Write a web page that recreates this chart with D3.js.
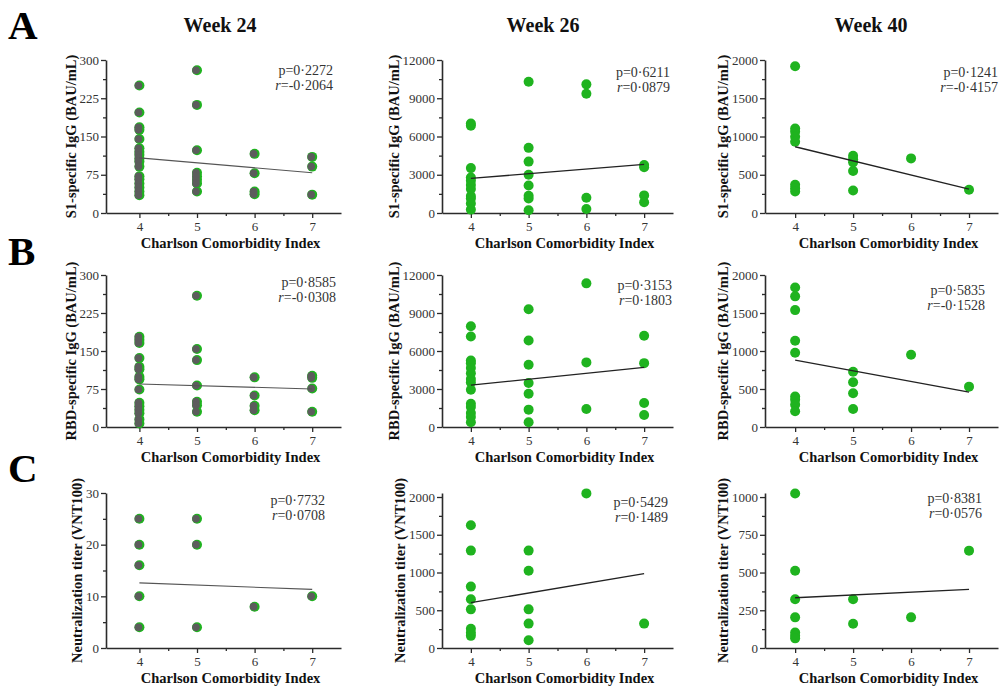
<!DOCTYPE html>
<meta charset="utf-8">
<script src="https://d3js.org/d3.v7.min.js"></script>
<style>
  body { margin: 0; background: #fff; }
  text { font-family: "Liberation Serif", "Times New Roman", serif; }
</style>
<div id="chart"></div>
<script>
// Charlson Comorbidity Index groups on the x axis
var cciLevels = [4, 5, 6, 7];
var weekTitles = ["Week 24", "Week 26", "Week 40"];
var rowLetters = ["A", "B", "C"];
var rowYTitles = ["S1-specific IgG (BAU/mL)", "RBD-specific IgG (BAU/mL)", "Neutralization titer (VNT100)"];

// values per CCI group (4, 5, 6, 7)
var s1Week24 = [[250, 197, 168, 163, 145, 127, 120, 114, 107, 101, 91, 72, 66, 58, 50, 42, 35], [280, 212, 123, 79, 72, 65, 58, 42], [116, 78, 42, 37], [110, 91, 36]];
var s1Week26 = [[7020, 6840, 3520, 2780, 2520, 2200, 1880, 1330, 1140, 740, 265], [10300, 5110, 4030, 3000, 2150, 1350, 1140, 210], [10090, 9350, 1200, 320], [3770, 3590, 1380, 850]];
var s1Week40 = [[1918, 1104, 1061, 996, 931, 368, 325, 281], [749, 701, 662, 550, 294], [714], [303]];
var rbdWeek24 = [[178, 172, 166, 136, 119, 114, 99, 94, 74, 48, 41, 34, 27, 15, 7], [259, 154, 132, 82, 50, 43, 30], [98, 62, 42, 33], [101, 97, 76, 30]];
var rbdWeek26 = [[7960, 7140, 5250, 5040, 4650, 4250, 3780, 3520, 2940, 1840, 1580, 1100, 790, 370], [9300, 6830, 4910, 3470, 2630, 1370, 370], [11340, 5100, 1420], [7200, 5040, 1890, 945]];
var rbdWeek40 = [[1836, 1719, 1538, 1136, 976, 402, 359, 294, 207], [726, 588, 445, 238], [950], [531]];
var vntWeek24 = [[25, 20, 16, 10, 4], [25, 20, 4], [8], [10]];
var vntWeek26 = [[1625, 1290, 813, 645, 512, 256, 203, 161], [1290, 1024, 512, 323, 102], [2048], [323]];
var vntWeek40 = [[1024, 512, 323, 203, 102, 81, 64], [323, 161], [203], [645]];

// fitted line value at CCI 4 and CCI 7
var fits = [[108, 79], [2710, 3820], [866, 312], [85, 75], [3310, 4700], [881, 458], [12.6, 11.35], [600, 985], [333, 389]];
var pValues = ["0·2272", "0·6211", "0·1241", "0·8585", "0·3153", "0·5835", "0·7732", "0·5429", "0·8381"];
var rValues = ["-0·2064", "0·0879", "-0·4157", "-0·0308", "0·1803", "-0·1528", "0·0708", "0·1489", "0·0576"];

// y axis ticks per panel
var yTicks = [
  [0, 75, 150, 225, 300], [0, 3000, 6000, 9000, 12000], [0, 500, 1000, 1500, 2000],
  [0, 75, 150, 225, 300], [0, 3000, 6000, 9000, 12000], [0, 500, 1000, 1500, 2000],
  [0, 10, 20, 30], [0, 500, 1000, 1500, 2000], [0, 250, 500, 750, 1000]
];
var yMax = [300, 12000, 2000, 300, 12000, 2000, 30, 2053, 1027];
var panelData = [s1Week24, s1Week26, s1Week40, rbdWeek24, rbdWeek26, rbdWeek40, vntWeek24, vntWeek26, vntWeek40];

// layout
var colLeft = [106, 442, 765], colRight = [341, 673, 998], colXMin = [3.42, 3.5, 3.48];
var rowTop = [60, 275, 493], rowBottom = [213, 427, 648];
var titleX = [220, 543, 871];
var letterY = [39, 265, 482];
var statsAt = [[333, 75], [670, 77], [998, 77], [336, 287], [672, 290], [985, 295], [325, 505], [668, 507], [982, 503]];

var green = "#1fb31f", grey = "#5c5c5c", ink = "#2b2b2b";

var svg = d3.select("#chart").append("svg")
  .attr("width", 1001)
  .attr("height", 689);

// week headers
svg.selectAll(".week")
  .data(weekTitles)
  .enter().append("text")
  .attr("x", function(d, i) { return titleX[i]; })
  .attr("y", 32)
  .attr("text-anchor", "middle")
  .style("font-size", "20px")
  .style("font-weight", "bold")
  .style("fill", "#111")
  .text(function(d) { return d; });

// panel letters
svg.selectAll(".letter")
  .data(rowLetters)
  .enter().append("text")
  .attr("x", 8)
  .attr("y", function(d, i) { return letterY[i]; })
  .style("font-size", "41px")
  .style("font-weight", "bold")
  .style("fill", "#000")
  .text(function(d) { return d; });

function midpoints(t) {
  var m = [];
  for (var i = 0; i < t.length - 1; i++) m.push((t[i] + t[i + 1]) / 2);
  return m;
}

panelData.forEach(function(groups, k) {
  var row = Math.floor(k / 3), col = k % 3;
  var g = svg.append("g");

  var x = d3.scaleLinear().domain([colXMin[col], 7.5]).range([colLeft[col], colRight[col]]);
  var y = d3.scaleLinear().domain([0, yMax[k]]).range([rowBottom[row], rowTop[row]]);

  // y axis: major + minor ticks
  var yAxisG = g.append("g")
    .attr("transform", "translate(" + colLeft[col] + ",0)")
    .call(d3.axisLeft(y).tickValues(yTicks[k]).tickSize(5).tickSizeOuter(0).tickPadding(2).tickFormat(d3.format("d")));
  g.append("g")
    .attr("transform", "translate(" + colLeft[col] + ",0)")
    .call(d3.axisLeft(y).tickValues(midpoints(yTicks[k])).tickSize(3).tickSizeOuter(0).tickFormat(""))
    .select(".domain").remove();

  // x axis: major + minor ticks
  g.append("g")
    .attr("transform", "translate(0," + rowBottom[row] + ")")
    .call(d3.axisBottom(x).tickValues(cciLevels).tickSize(5).tickSizeOuter(0).tickPadding(4).tickFormat(d3.format("d")));
  g.append("g")
    .attr("transform", "translate(0," + rowBottom[row] + ")")
    .call(d3.axisBottom(x).tickValues(midpoints(cciLevels)).tickSize(3).tickSizeOuter(0).tickFormat(""))
    .select(".domain").remove();

  g.selectAll("g").attr("font-family", null).attr("font-size", null);
  g.selectAll(".domain").attr("stroke", ink).attr("stroke-width", 1.6);
  g.selectAll(".tick line").attr("stroke", ink).attr("stroke-width", 1.3);
  g.selectAll(".tick text")
    .style("font-family", "'Liberation Serif', 'Times New Roman', serif")
    .style("font-size", "13px")
    .style("fill", "#333");

  // y title, placed left of tick labels
  var bb = yAxisG.node().getBBox();
  var ty = (rowTop[row] + rowBottom[row]) / 2;
  var tx = colLeft[col] + bb.x - 9;
  g.append("text")
    .attr("transform", "translate(" + tx + "," + ty + ") rotate(-90)")
    .attr("text-anchor", "middle")
    .attr("dy", "0.35em")
    .style("font-size", "14.5px")
    .style("font-weight", "bold")
    .style("fill", "#111")
    .text(rowYTitles[row]);

  // x title
  g.append("text")
    .attr("x", (colLeft[col] + colRight[col]) / 2 + 7)
    .attr("y", rowBottom[row] + 35)
    .attr("text-anchor", "middle")
    .style("font-size", "14.5px")
    .style("font-weight", "bold")
    .style("fill", "#111")
    .text("Charlson Comorbidity Index");

  // points
  var pts = [];
  groups.forEach(function(vals, i) {
    vals.forEach(function(v) { pts.push({ cci: cciLevels[i], value: v }); });
  });
  var firstCol = col === 0;
  g.selectAll("circle.pt")
    .data(pts)
    .enter().append("circle")
    .attr("class", "pt")
    .attr("cx", function(d) { return x(d.cci); })
    .attr("cy", function(d) { return y(d.value); })
    .attr("r", 5)
    .attr("fill", green);
  if (firstCol) {
    g.selectAll("circle.pt2")
      .data(pts)
      .enter().append("circle")
      .attr("class", "pt2")
      .attr("cx", function(d) { return x(d.cci) - 1; })
      .attr("cy", function(d) { return y(d.value); })
      .attr("r", 3.8)
      .attr("fill", grey);
  }

  // fitted line
  var line = d3.line().x(function(d) { return x(d[0]); }).y(function(d) { return y(d[1]); });
  g.append("path")
    .datum([[4, fits[k][0]], [7, fits[k][1]]])
    .attr("d", line)
    .attr("fill", "none")
    .attr("stroke", firstCol ? "#555" : "#222")
    .attr("stroke-width", firstCol ? 1.1 : 1.3);

  // stats
  var st = g.append("text")
    .attr("text-anchor", "end")
    .style("font-size", "14px")
    .style("fill", "#333");
  st.append("tspan")
    .attr("x", statsAt[k][0])
    .attr("y", statsAt[k][1])
    .text("p=" + pValues[k]);
  var t2 = st.append("tspan")
    .attr("x", statsAt[k][0])
    .attr("y", statsAt[k][1] + 15);
  t2.append("tspan").style("font-style", "italic").text("r");
  t2.append("tspan").text("=" + rValues[k]);
});
</script>
